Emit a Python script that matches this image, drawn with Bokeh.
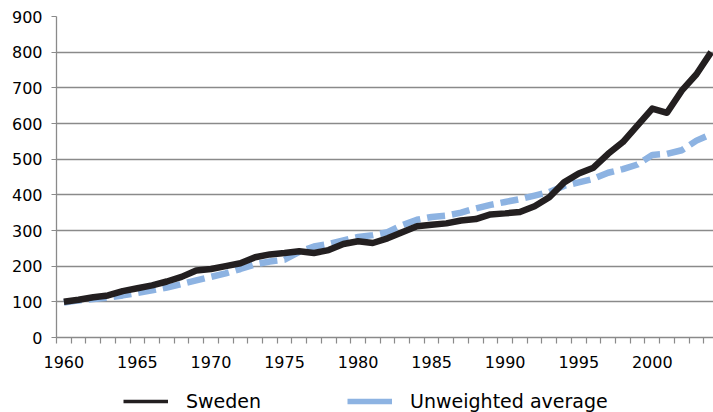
from bokeh.plotting import figure
from bokeh.models import (FixedTicker, Range1d, Legend, LegendItem, ColumnDataSource)
from bokeh.layouts import column
from bokeh.embed import file_html
from bokeh.resources import INLINE

years = list(range(1960, 2005))
sweden = [100, 106, 113, 118, 130, 138, 146, 157, 170, 188,
          192, 200, 208, 225, 233, 237, 242, 237, 245, 262,
          270, 265, 278, 295, 312, 316, 320, 328, 332, 345,
          348, 352, 368, 393, 435, 460, 476, 515, 548, 595,
          642, 630, 692, 738, 800]
average = [98, 104, 108, 112, 118, 125, 132, 140, 150, 160,
           170, 180, 192, 205, 213, 218, 240, 255, 262, 272,
           282, 287, 295, 315, 330, 338, 342, 350, 362, 372,
           380, 388, 398, 408, 425, 435, 445, 462, 472, 485,
           512, 515, 525, 552, 570]
x_labels = [1960, 1965, 1970, 1975, 1980, 1985, 1990, 1995, 2000]
y_ticks = [0, 100, 200, 300, 400, 500, 600, 700, 800, 900]

FONT = "DejaVu Sans"
GRID = "#8a8a8a"
SWE_COLOR = "#231f20"
AVG_COLOR = "#8db3e2"

W = 713
MAIN_H = 380
LEG_H = 32

p = figure(width=W, height=MAIN_H, output_backend="svg", toolbar_location=None,
           x_range=Range1d(1959.5, 2004.16), y_range=Range1d(0, 900),
           min_border_left=56, min_border_right=0, min_border_top=16,
           min_border_bottom=MAIN_H - 337)
p.outline_line_color = None
p.background_fill_color = "white"
p.border_fill_color = "white"

src = ColumnDataSource(dict(year=years, sweden=sweden, average=average))
p.line("year", "average", source=src, line_color=AVG_COLOR, line_width=6.5,
       line_dash="18 7")
p.line("year", "sweden", source=src, line_color=SWE_COLOR, line_width=6.5,
       line_join="round")

# x axis
xa = p.xaxis[0]
xa.ticker = FixedTicker(ticks=x_labels, minor_ticks=[y + 0.5 for y in range(1959, 2005)])
xa.major_tick_line_color = None
xa.major_tick_out = 6
xa.major_tick_in = 0
xa.minor_tick_out = 6
xa.minor_tick_in = 0
xa.minor_tick_line_color = GRID
xa.minor_tick_line_width = 1.2
xa.axis_line_color = GRID
xa.axis_line_width = 1.3
xa.major_label_standoff = 12
xa.major_label_text_font = FONT
xa.major_label_text_font_size = "16px"
xa.major_label_text_color = "#000000"

# y axis
ya = p.yaxis[0]
ya.ticker = FixedTicker(ticks=y_ticks, minor_ticks=[])
ya.major_tick_out = 5
ya.major_tick_in = 0
ya.major_tick_line_color = GRID
ya.major_tick_line_width = 1.2
ya.minor_tick_line_color = None
ya.axis_line_color = GRID
ya.axis_line_width = 1.3
ya.major_label_standoff = 9
ya.major_label_text_font = FONT
ya.major_label_text_font_size = "16px"
ya.major_label_text_color = "#000000"

p.xgrid.grid_line_color = None
p.ygrid.ticker = FixedTicker(ticks=y_ticks[1:])
p.ygrid.grid_line_color = GRID
p.ygrid.grid_line_width = 1.3

# legend in its own strip below the chart (frame aligned with the chart's frame)
lf = figure(width=W, height=LEG_H, output_backend="svg", toolbar_location=None,
            x_range=Range1d(0, 1), y_range=Range1d(0, 1),
            min_border=0)
lf.axis.visible = False
lf.grid.visible = False
lf.outline_line_color = None
offscreen = ColumnDataSource(dict(x=[5, 6], y=[5, 6]))
# long "on" segment so the short legend samples are drawn as solid strokes
r_sw = lf.line("x", "y", source=offscreen, line_color=SWE_COLOR, line_width=3.5,
               line_dash="80 1")
r_av = lf.line("x", "y", source=offscreen, line_color=AVG_COLOR, line_width=5.5,
               line_dash="80 1")
legend = Legend(items=[LegendItem(label="Sweden", renderers=[r_sw]),
                       LegendItem(label="Unweighted average", renderers=[r_av])],
                orientation="horizontal", location=(67, 0),
                glyph_width=45, glyph_height=20, label_standoff=18, spacing=86,
                padding=0, margin=0, border_line_color=None,
                background_fill_alpha=0,
                label_text_font=FONT, label_text_font_size="19px",
                label_text_color="#000000")
lf.add_layout(legend, "center")

layout = column(p, lf, spacing=0)
open("out.html", "w").write(file_html(layout, INLINE))
